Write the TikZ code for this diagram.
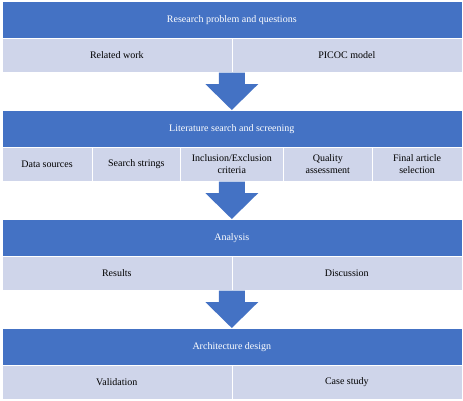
\documentclass[tikz,border=0pt]{standalone}
\usepackage{fontspec}
\setmainfont{Liberation Serif}
\usetikzlibrary{calc}
\definecolor{hdrblue}{HTML}{4472C4}
\definecolor{celllight}{HTML}{CFD5EA}
\tikzset{
  hdr/.style={draw=white, line width=0.6pt, fill=hdrblue, text=white,
    minimum width=460pt, minimum height=37pt, anchor=north west, inner sep=0pt,
    font=\fontsize{10}{12}\selectfont},
  cell/.style={draw=white, line width=0.6pt, fill=celllight,
    minimum height=34pt, anchor=north west, inner sep=0pt, align=center,
    font=\fontsize{10}{12}\selectfont},
  blockarr/.style={fill=hdrblue}
}
% block arrow from the cells of one band down to the next header
\newcommand{\bandarrow}[2]{%
  \fill[blockarr] ($(#2.north |- #1.south)+(-13,0)$) -- ($(#2.north |- #1.south)+(13,0)$)
    -- ($(#2.north)+(13,26)$) -- ($(#2.north)+(26.5,26)$) -- (#2.north)
    -- ($(#2.north)+(-26.5,26)$) -- ($(#2.north)+(-13,26)$) -- cycle;}
\begin{document}
\begin{tikzpicture}[x=1pt,y=1pt]
  \useasboundingbox (0,0) rectangle (463,-400);

  \node[hdr] (h1) at (1.5,-1) {Research problem and questions};
  \node[cell, minimum width=230pt] (c11) at (1.5,-38) {Related work};
  \node[cell, minimum width=230pt] (c12) at (231.5,-38) {PICOC model};

  \node[hdr] (h2) at (1.5,-110) {Literature search and screening};
  \node[cell, minimum width=90.5pt] (c21) at (1.5,-147) {Data sources};
  \node[cell, minimum width=88pt] (c22) at (92,-147) {Search strings};
  \node[cell, minimum width=103pt] (c23) at (180,-147) {Inclusion/Exclusion\\criteria};
  \node[cell, minimum width=89pt] (c24) at (283,-147) {Quality\\assessment};
  \node[cell, minimum width=89.5pt] (c25) at (372,-147) {Final article\\selection};

  \node[hdr] (h3) at (1.5,-219) {Analysis};
  \node[cell, minimum width=230pt] (c31) at (1.5,-256) {Results};
  \node[cell, minimum width=230pt] (c32) at (231.5,-256) {Discussion};

  \node[hdr] (h4) at (1.5,-328) {Architecture design};
  \node[cell, minimum width=230pt] (c41) at (1.5,-365) {Validation};
  \node[cell, minimum width=230pt] (c42) at (231.5,-365) {Case study};

  \bandarrow{c11}{h2}
  \bandarrow{c23}{h3}
  \bandarrow{c31}{h4}
\end{tikzpicture}
\end{document}
